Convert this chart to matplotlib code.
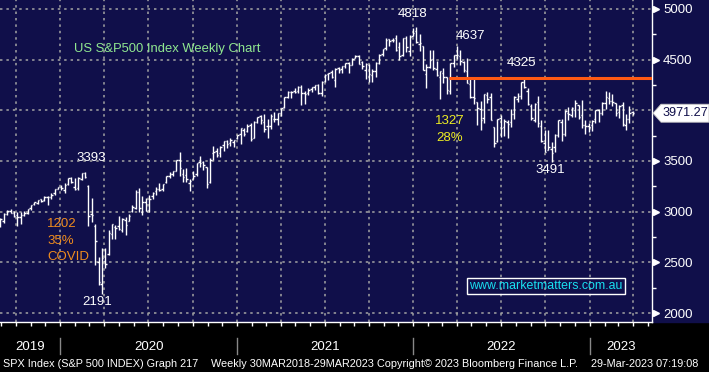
import pandas as pd
import numpy as np
import matplotlib
matplotlib.use("Agg")
import matplotlib.pyplot as plt
import matplotlib.dates as mdates
import matplotlib.transforms as mtransforms
from matplotlib.collections import LineCollection
from matplotlib.patches import Polygon, Rectangle

plt.rcParams['font.family'] = ['Liberation Sans', 'DejaVu Sans']

# weekly S&P 500 bars, week ending Friday, from 30 Aug 2019 to 31 Mar 2023
first_week = '2019-08-30'

opens = [
    # 2019
    2866, 2910, 2980, 3002, 2984, 2967, 2944, 2965, 2991, 3032, 3078, 3087, 3123, 3117, 3143, 3141, 3183, 3227,
    # 2020
    3243, 3217, 3271, 3333, 3248, 3235, 3318, 3380, 3257, 2974, 2863, 2508, 2291, 2514, 2579, 2776, 2845, 2855,
    2815, 2915, 2913, 3004, 3038, 3199, 2993, 3094, 3018, 3155, 3201, 3224, 3219, 3288, 3356, 3368, 3402, 3508,
    3369, 3363, 3285, 3326, 3368, 3489, 3493, 3441, 3296, 3583, 3600, 3579, 3653, 3698, 3675, 3684, 3723,
    # 2021
    3764, 3803, 3797, 3855, 3731, 3886, 3939, 3885, 3842, 3844, 3913, 3916, 3969, 4034, 4130, 4183, 4186, 4192,
    4228, 4169, 4170, 4210, 4229, 4248, 4173, 4285, 4356, 4373, 4296, 4416, 4407, 4437, 4462, 4450, 4513, 4536,
    4474, 4402, 4449, 4349, 4385, 4469, 4553, 4610, 4701, 4689, 4712, 4620, 4548, 4710, 4587, 4733,
    # 2022
    4778, 4655, 4632, 4357, 4432, 4505, 4412, 4332, 4364, 4328, 4189, 4462, 4541, 4540, 4475, 4385, 4255, 4130,
    4081, 4009, 3920, 4150, 4135, 3838, 3702, 3920, 3831, 3880, 3883, 3965, 4113, 4142, 4282, 4195, 4041, 3909,
    4084, 3846, 3682, 3610, 3619, 3638, 3754, 3881, 3767, 3977, 3956, 4005, 4053, 3954, 3853, 3843,
    # 2023
    3853, 3911, 3999, 3978, 4071, 4120, 4096, 4068, 3982, 4055, 3859, 3917, 3982,
]
highs = [
    2940, 2985, 3021, 3022, 3002, 2993, 2993, 3008, 3027, 3067, 3097, 3120, 3127, 3154, 3150, 3183, 3226, 3248,
    3259, 3282, 3329, 3338, 3337, 3347, 3385, 3393, 3259, 3137, 2882, 2553, 2637, 2641, 2819, 2879, 2870, 2955,
    2934, 2945, 2980, 3068, 3212, 3233, 3155, 3138, 3166, 3199, 3240, 3280, 3272, 3352, 3387, 3399, 3510, 3588,
    3425, 3429, 3320, 3398, 3482, 3549, 3502, 3445, 3529, 3646, 3628, 3645, 3700, 3712, 3726, 3711, 3760,
    3827, 3823, 3861, 3870, 3894, 3937, 3950, 3960, 3915, 3960, 3983, 3978, 4020, 4129, 4191, 4194, 4218, 4238,
    4246, 4188, 4217, 4234, 4249, 4262, 4286, 4356, 4372, 4394, 4415, 4430, 4440, 4469, 4480, 4513, 4546, 4549,
    4485, 4466, 4457, 4412, 4475, 4559, 4608, 4718, 4707, 4718, 4743, 4672, 4713, 4732, 4740, 4808,
    4818, 4749, 4632, 4454, 4595, 4590, 4490, 4385, 4416, 4331, 4465, 4546, 4637, 4593, 4486, 4512, 4308, 4307,
    4082, 4091, 4158, 4178, 4168, 3838, 3913, 3951, 3919, 3905, 4012, 4140, 4167, 4280, 4325, 4218, 4062, 4077,
    4140, 3907, 3807, 3807, 3685, 3762, 3905, 3911, 4001, 4028, 4034, 4101, 4053, 4101, 3907, 3879,
    3907, 4003, 4015, 4079, 4195, 4176, 4163, 4068, 4049, 4079, 3964, 4039, 3993,
]
lows = [
    2853, 2891, 2964, 2990, 2946, 2856, 2874, 2953, 2982, 3013, 3066, 3078, 3091, 3104, 3070, 3123, 3166, 3222,
    3212, 3181, 3263, 3280, 3214, 3214, 3315, 3328, 2855, 2901, 2479, 2280, 2191, 2447, 2575, 2727, 2727, 2820,
    2798, 2767, 2909, 2999, 3031, 2999, 2965, 3004, 3000, 3128, 3166, 3200, 3204, 3280, 3328, 3354, 3400, 3349,
    3293, 3292, 3209, 3323, 3355, 3442, 3415, 3233, 3279, 3511, 3543, 3542, 3595, 3633, 3645, 3636, 3715,
    3663, 3749, 3789, 3694, 3725, 3874, 3866, 3789, 3723, 3814, 3884, 3853, 3945, 4020, 4118, 4118, 4167, 4169,
    4056, 4062, 4155, 4183, 4205, 4165, 4145, 4279, 4295, 4322, 4233, 4365, 4367, 4417, 4367, 4448, 4513, 4457,
    4406, 4306, 4279, 4278, 4330, 4459, 4537, 4595, 4630, 4672, 4585, 4495, 4532, 4575, 4531, 4733,
    4662, 4582, 4395, 4222, 4414, 4401, 4335, 4115, 4268, 4157, 4162, 4425, 4507, 4450, 4381, 4267, 4124, 4062,
    3858, 3810, 3875, 4073, 3901, 3637, 3690, 3739, 3742, 3722, 3832, 3910, 4080, 4112, 4218, 4057, 3906, 3887,
    3838, 3689, 3584, 3604, 3491, 3590, 3735, 3698, 3751, 3906, 3938, 3936, 3918, 3827, 3764, 3783,
    3795, 3877, 3885, 3949, 4015, 4060, 4047, 3944, 3928, 3847, 3809, 3874, 3951,
]
closes = [
    2926, 2979, 3007, 2992, 2962, 2952, 2970, 2986, 3023, 3067, 3093, 3120, 3110, 3141, 3146, 3169, 3221, 3240,
    3235, 3265, 3330, 3295, 3226, 3328, 3380, 3338, 2954, 2972, 2711, 2305, 2541, 2489, 2790, 2875, 2837, 2831,
    2930, 2864, 2955, 3044, 3194, 3041, 3098, 3009, 3130, 3185, 3225, 3216, 3271, 3351, 3373, 3397, 3508, 3427,
    3341, 3319, 3298, 3348, 3477, 3484, 3465, 3270, 3510, 3585, 3558, 3638, 3699, 3663, 3709, 3703, 3756,
    3825, 3768, 3841, 3714, 3887, 3934, 3907, 3811, 3842, 3943, 3913, 3975, 4020, 4129, 4185, 4180, 4181, 4233,
    4174, 4156, 4204, 4230, 4247, 4166, 4281, 4352, 4370, 4327, 4412, 4395, 4437, 4468, 4442, 4509, 4535, 4459,
    4433, 4455, 4357, 4391, 4471, 4545, 4605, 4697, 4683, 4698, 4595, 4538, 4712, 4620, 4726, 4766,
    4677, 4663, 4398, 4432, 4501, 4419, 4349, 4385, 4329, 4204, 4463, 4543, 4546, 4488, 4393, 4272, 4132, 4123,
    4024, 3901, 4158, 4109, 3901, 3675, 3912, 3825, 3899, 3863, 3962, 4130, 4145, 4280, 4228, 4058, 3924, 4067,
    3873, 3693, 3586, 3640, 3583, 3753, 3901, 3771, 3993, 3965, 4026, 4072, 3934, 3852, 3845, 3840,
    3895, 3999, 3973, 4071, 4136, 4090, 4079, 3970, 4046, 3862, 3917, 3971, 3971.27,
]

resist_level = 4315
resist_start = '2022-03-16'

years = [2019, 2020, 2021, 2022, 2023]
y_major = [2000, 2500, 3000, 3500, 4000, 4500, 5000]
y_labels = ['2000', '2500', '3000', '3500', '', '4500', '5000']   # 4000 sits under the price tag
y_minor = [2250, 2750, 3250, 3750, 4250, 4750]

footer = [
    (3, "SPX Index (S&P 500 INDEX) Graph 217"),
    (211, "Weekly 30MAR2018-29MAR2023"),
    (377, "Copyright\u00a9 2023 Bloomberg Finance L.P."),
    (591, "29-Mar-2023 07:19:08"),
]

NAVY = '#100f4a'
W, H = 709, 372
AX_L, AX_R, AX_T, AX_B = 0, 652, 0, 322   # plot area in pixels (from top-left)

weeks = pd.date_range(first_week, periods=len(closes), freq='W-FRI')
x = mdates.date2num(weeks)

fig = plt.figure(figsize=(W / 100, H / 100), dpi=100, facecolor='black')
ax = fig.add_axes([AX_L / W, 1 - AX_B / H, (AX_R - AX_L) / W, (AX_B - AX_T) / H])
ax.set_facecolor(NAVY)
fig.patches.append(Rectangle((AX_R / W, 1 - AX_B / H), (W - AX_R) / W, AX_B / H,
                             transform=fig.transFigure, color=NAVY, zorder=-1))

# OHLC bars
half = 3.0
segs = []
for xi, o, h, l, c in zip(x, opens, highs, lows, closes):
    segs.append([(xi, l), (xi, h)])
    segs.append([(xi - half, o), (xi, o)])
    segs.append([(xi, c), (xi + half, c)])
ax.add_collection(LineCollection(segs, colors='white', linewidths=1.0, zorder=3))

x0 = mdates.date2num(pd.Timestamp('2019-08-29'))
x1 = mdates.date2num(pd.Timestamp('2023-05-10'))
ax.set_xlim(x0, x1)
ax.set_ylim(1912, 5088)

# grid
ax.xaxis.set_major_locator(mdates.MonthLocator(bymonth=[1, 4, 7, 10]))
ax.xaxis.set_minor_locator(mdates.MonthLocator())
ax.set_yticks(y_major, y_labels)
ax.set_yticks(y_minor, minor=True)
ax.grid(True, which='major', color='#a4a4a4', linestyle=(0, (1.6, 2.6)), linewidth=1.1, zorder=1)
ax.set_axisbelow(True)

for s in ['left', 'top']:
    ax.spines[s].set_visible(False)
for s in ['right', 'bottom']:
    ax.spines[s].set_color('white')
    ax.spines[s].set_linewidth(1.0)

ax.tick_params(axis='x', which='both', length=3, width=1, color='white', labelbottom=False, direction='out')
ax.yaxis.tick_right()
ax.tick_params(axis='y', which='major', length=0, pad=8, labelcolor='white', labelsize=9.5)
ax.tick_params(axis='y', which='minor', length=3, width=1, color='white')

# triangles at the labelled y ticks
ytrans = mtransforms.blended_transform_factory(ax.transAxes, ax.transData)
tri_y = [v for v, lab in zip(y_major, y_labels) if lab]
ax.plot([1.0065] * len(tri_y), tri_y, transform=ytrans, marker='>', ls='none',
        ms=4.5, color='white', clip_on=False)

# year labels and separators
xtrans = mtransforms.blended_transform_factory(ax.transData, ax.transAxes)
for yr in years:
    a = max(mdates.date2num(pd.Timestamp(f'{yr}-01-01')), x0)
    b = min(mdates.date2num(pd.Timestamp(f'{yr + 1}-01-01')), x1)
    ax.text((a + b) / 2, -0.078, str(yr), transform=xtrans, ha='center', va='center',
            color='white', fontsize=9.5)
    if yr > years[0]:
        xs = mdates.date2num(pd.Timestamp(f'{yr}-01-01'))
        ax.plot([xs, xs], [-0.05, -0.10], transform=xtrans, color='#888888', lw=1, clip_on=False)

for px, txt in footer:
    fig.text(px / W, 1 - 364 / H, txt, ha='left', va='center', color='white', fontsize=7.8)

# resistance line
ax.hlines(resist_level, mdates.date2num(pd.Timestamp(resist_start)), x1, color='#ff5a14', lw=2.2, zorder=4)


def axpos(px, py):
    return (px - AX_L) / (AX_R - AX_L), 1 - (py - AX_T) / (AX_B - AX_T)


def label(px, py, txt, color='white', ha='center', size=9.5):
    ax.text(*axpos(px, py), txt, transform=ax.transAxes, ha=ha, va='center', color=color,
            fontsize=size, zorder=5)


label(74, 49, 'US S&P500 Index Weekly Chart', color='#90e890', ha='left', size=9.4)
label(91, 158, '3393')
label(97, 302, '2191')
label(47, 224, '1202', color='#f08c1e', ha='left')
label(47, 241, '35%', color='#f08c1e', ha='left')
label(47, 257, 'COVID', color='#f08c1e', ha='left')
label(412, 14, '4818')
label(470, 36, '4637')
label(521, 63, '4325')
label(450, 121, '1327', color='#ecec22')
label(450, 138, '28%', color='#ecec22')
label(550, 170, '3491')

ax.text(*axpos(546, 286), 'www.marketmatters.com.au', transform=ax.transAxes, ha='center', va='center',
        color='#19e0f0', fontsize=8.9, zorder=5,
        bbox=dict(boxstyle='square,pad=0.2', facecolor='none', edgecolor='white', lw=1.0))

# last price tag
last = closes[-1]
lo, hi = ax.get_ylim()
ypx = (1 - AX_B / H) * H + (last - lo) / (hi - lo) * (AX_B - AX_T)
tag = [(653, ypx), (661, ypx + 9), (709, ypx + 9), (709, ypx - 9), (661, ypx - 9)]
fig.patches.append(Polygon([(a / W, b / H) for a, b in tag], closed=True, transform=fig.transFigure,
                           facecolor='white', edgecolor='#c0c0c0', lw=0.6, zorder=5))
fig.text(662 / W, ypx / H, f'{last:.2f}', ha='left', va='center', color=NAVY, fontsize=9.1, zorder=6)

fig.savefig('out.png', dpi=100, facecolor='black')
